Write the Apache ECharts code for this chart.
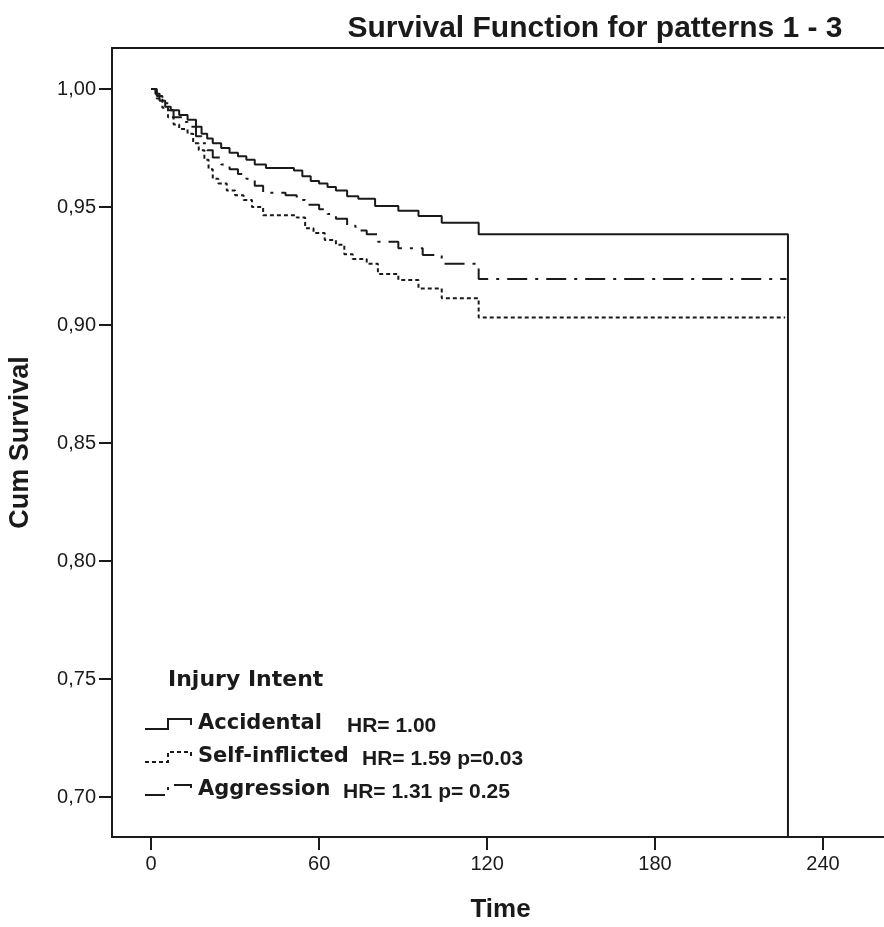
<!DOCTYPE html>
<html>
<head>
<meta charset="utf-8">
<title>Survival Function</title>
<script src="https://cdn.jsdelivr.net/npm/echarts@6/dist/echarts.min.js"></script>
<style>
    html, body { margin: 0; padding: 0; background: #fff; }
    #chart { width: 884px; height: 927px; }
</style>
</head>
<body>
<div id="chart"></div>
<script>
// Kaplan-Meier steps: event time and survival after it
var accTime = [0, 1.5, 3, 5, 7, 10, 13, 16, 18, 20, 22, 25, 28, 31, 34, 37, 41, 51, 54, 57, 60, 63, 66, 70, 74, 80, 88.3, 95.5, 103.8, 117, 227.5];
var accSurv = [1.0, 0.998, 0.995, 0.9925, 0.991, 0.989, 0.987, 0.984, 0.981, 0.979, 0.977, 0.975, 0.973, 0.9715, 0.970, 0.968, 0.9665, 0.9655, 0.963, 0.961, 0.960, 0.9585, 0.957, 0.9545, 0.9535, 0.9504, 0.9484, 0.9462, 0.9433, 0.9384, 0.5];

var selfTime = [0, 2, 4, 6, 8, 10, 13, 15, 17, 19, 20.5, 22, 24, 27, 30, 33, 36, 40, 52, 55, 58, 62, 66, 69, 72, 77, 81, 88.3, 95.5, 103.8, 117, 226.5];
var selfSurv = [1.0, 0.996, 0.992, 0.988, 0.985, 0.983, 0.981, 0.977, 0.974, 0.970, 0.966, 0.962, 0.960, 0.957, 0.955, 0.953, 0.950, 0.9465, 0.9455, 0.941, 0.939, 0.936, 0.934, 0.930, 0.928, 0.926, 0.9216, 0.9191, 0.9155, 0.9113, 0.9032, 0.9032];

var aggTime = [0, 2, 4, 6, 8, 11, 13, 16, 18, 20, 22, 25, 28, 31, 34, 37, 40, 48, 52, 55, 60, 63, 66, 70, 73, 77, 81, 88.3, 97, 103.8, 117, 227];
var aggSurv = [1.0, 0.997, 0.994, 0.991, 0.988, 0.986, 0.984, 0.980, 0.977, 0.974, 0.971, 0.968, 0.966, 0.964, 0.962, 0.959, 0.956, 0.955, 0.953, 0.951, 0.949, 0.947, 0.945, 0.942, 0.940, 0.9385, 0.9353, 0.9325, 0.9297, 0.926, 0.9195, 0.9195];

var xTicks = [0, 60, 120, 180, 240];
var yTicks = [0.70, 0.75, 0.80, 0.85, 0.90, 0.95, 1.00];

var groupNames = ['Accidental', 'Self-inflicted', 'Aggression'];
var groupStats = ['HR= 1.00', 'HR= 1.59 p=0.03', 'HR= 1.31 p= 0.25'];

function pairs(t, s) {
    var out = [];
    for (var i = 0; i < t.length; i++) {
        out.push([t[i], s[i]]);
    }
    return out;
}

var ink = '#1a1a1a';
var styles = [
    { type: 'solid' },
    { type: [4, 3] },
    { type: [20, 8, 3, 8] }
];

var chart = echarts.init(document.getElementById('chart'));

// legend drawn by hand: step icon + bold label + stats
var legendGraphics = [{
    type: 'text',
    style: { x: 168, y: 680, text: 'Injury Intent', font: 'bold 22px "DejaVu Sans"', fill: ink, textVerticalAlign: 'middle' }
}];
var statX = [347, 362, 343];
for (var g = 0; g < 3; g++) {
    var cy = 724 + g * 33;
    legendGraphics.push({
        type: 'polyline',
        shape: { points: [[145, cy + 5], [168, cy + 5], [168, cy - 5], [191, cy - 5], [191, cy + 1]] },
        style: { stroke: ink, lineWidth: 2, fill: null, lineDash: g === 0 ? null : styles[g].type }
    });
    legendGraphics.push({
        type: 'text',
        style: { x: 198, y: cy, text: groupNames[g], font: 'bold 21px "DejaVu Sans"', fill: ink, textVerticalAlign: 'middle' }
    });
    legendGraphics.push({
        type: 'text',
        style: { x: statX[g], y: cy + 2, text: groupStats[g], font: 'bold 21px "Liberation Sans"', fill: ink, textVerticalAlign: 'middle' }
    });
}

var option = {
    animation: false,
    backgroundColor: '#fff',
    title: {
        text: 'Survival Function for patterns 1 - 3',
        left: 590,
        top: 9,
        textAlign: 'center',
        textStyle: { fontFamily: 'Liberation Sans', fontWeight: 'bold', fontSize: 30, color: ink }
    },
    grid: {
        left: 112,
        top: 48,
        right: -5,
        bottom: 90,
        outerBoundsMode: 'none',
        containLabel: false,
        show: true,
        borderColor: ink,
        borderWidth: 2
    },
    xAxis: {
        type: 'value',
        min: -14,
        max: 263.6,
        name: 'Time',
        nameLocation: 'middle',
        nameGap: 60,
        nameTextStyle: { fontFamily: 'Liberation Sans', fontWeight: 'bold', fontSize: 26, color: ink },
        axisLine: { show: true, onZero: false, lineStyle: { color: ink, width: 2 } },
        axisTick: { show: true, length: 13, customValues: xTicks, lineStyle: { color: ink, width: 2 } },
        axisLabel: { customValues: xTicks, margin: 17, fontFamily: 'Liberation Sans', fontSize: 20, color: ink },
        splitLine: { show: false }
    },
    yAxis: {
        type: 'value',
        min: 0.68305,
        max: 1.01737,
        name: 'Cum Survival',
        nameLocation: 'middle',
        nameGap: 78,
        nameRotate: 90,
        nameTextStyle: { fontFamily: 'Liberation Sans', fontWeight: 'bold', fontSize: 27, color: ink },
        axisLine: { show: true, onZero: false, lineStyle: { color: ink, width: 2 } },
        axisTick: { show: true, length: 13, customValues: yTicks, lineStyle: { color: ink, width: 2 } },
        axisLabel: {
            customValues: yTicks,
            margin: 16,
            fontFamily: 'Liberation Sans',
            fontSize: 20,
            color: ink,
            formatter: function (v) { return v.toFixed(2).replace('.', ','); }
        },
        splitLine: { show: false }
    },
    graphic: legendGraphics,
    series: [
        {
            name: groupNames[0], type: 'line', step: 'end', symbol: 'none', clip: true,
            data: pairs(accTime, accSurv),
            lineStyle: { color: ink, width: 2, type: styles[0].type }
        },
        {
            name: groupNames[1], type: 'line', step: 'end', symbol: 'none', clip: true,
            data: pairs(selfTime, selfSurv),
            lineStyle: { color: ink, width: 2, type: styles[1].type }
        },
        {
            name: groupNames[2], type: 'line', step: 'end', symbol: 'none', clip: true,
            data: pairs(aggTime, aggSurv),
            lineStyle: { color: ink, width: 2, type: styles[2].type }
        }
    ]
};

chart.setOption(option);
</script>
</body>
</html>
